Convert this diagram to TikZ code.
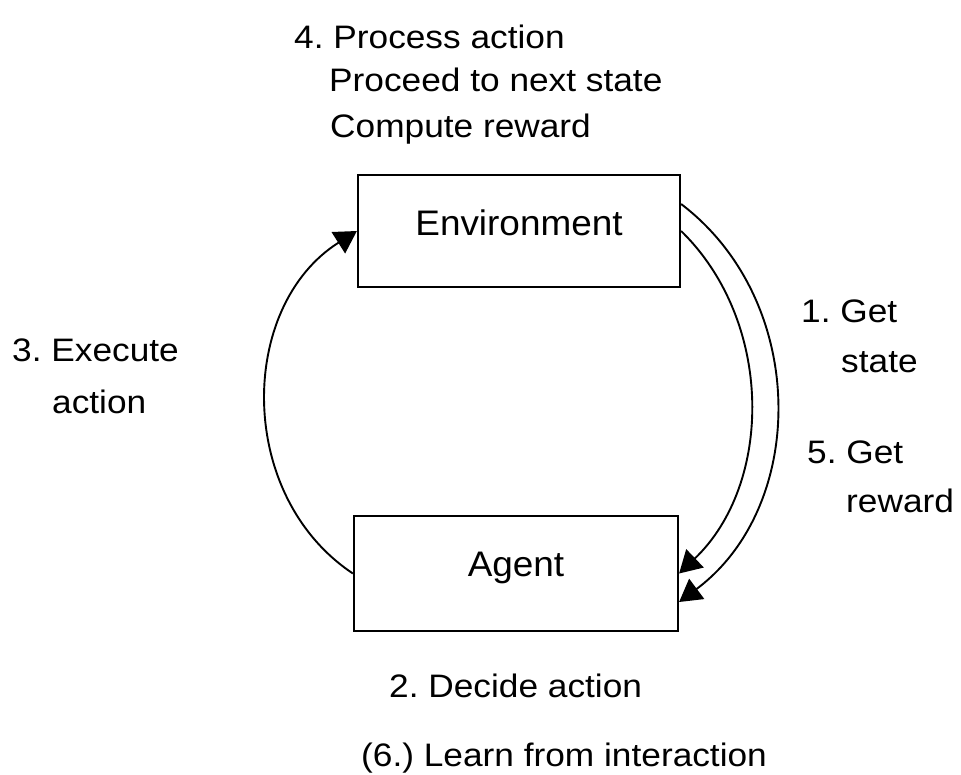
\documentclass[tikz,border=0pt]{standalone}
\usepackage{fontspec}
\setmainfont{Liberation Sans}
\newfontfamily\lblfont{Liberation Sans}[FakeStretch=1.085]
\newfontfamily\boxfont{Liberation Sans}[FakeStretch=1.04]
\usetikzlibrary{arrows.meta}
\frenchspacing
\begin{document}
\begin{tikzpicture}[x=1pt,y=-1pt,
  box/.style={draw, line width=2.2pt, inner sep=0pt, text height=24pt,
    font=\boxfont\fontsize{35.5}{42}\selectfont},
  lbl/.style={anchor=base west, inner sep=0pt,
    font=\lblfont\fontsize{32.5}{39}\selectfont},
  flow/.style={line width=1.9pt, -{Triangle[length=22pt,width=25pt]}}]
\useasboundingbox (0,0) rectangle (961,774);

% the two blocks of the loop
\node[box, minimum width=322pt, minimum height=112pt, text depth=16pt] (env) at (519,231) {Environment};
\node[box, minimum width=324pt, minimum height=115pt, text depth=19pt] (agent) at (516,573.5) {Agent};

% connectors
\draw[flow] (agent.west) to[bend left=57, looseness=1.05] (env.west);
\draw[flow] (env.east) to[bend left=46, looseness=0.97] (agent.east);
\draw[flow] ([yshift=27pt]env.east) to[bend left=53, looseness=1.03] ([yshift=-28.5pt]agent.east);

% step labels
\node[lbl] (s4) at (294,48) {4. Process action};
\node[lbl] (s4b) at (329,91) {Proceed to next state};
\node[lbl] (s4c) at (330,137) {Compute reward};
\node[lbl] (s3) at (12,361) {3. Execute};
\node[lbl] (s3b) at (52,413) {action};
\node[lbl] (s1) at (801,322) {1. Get};
\node[lbl] (s1b) at (841,372) {state};
\node[lbl] (s5) at (807,463) {5. Get};
\node[lbl] (s5b) at (846,512) {reward};
\node[lbl] (s2) at (389,697) {2. Decide action};
\node[lbl] (s6) at (361,766) {(6.) Learn from interaction};
\end{tikzpicture}
\end{document}
